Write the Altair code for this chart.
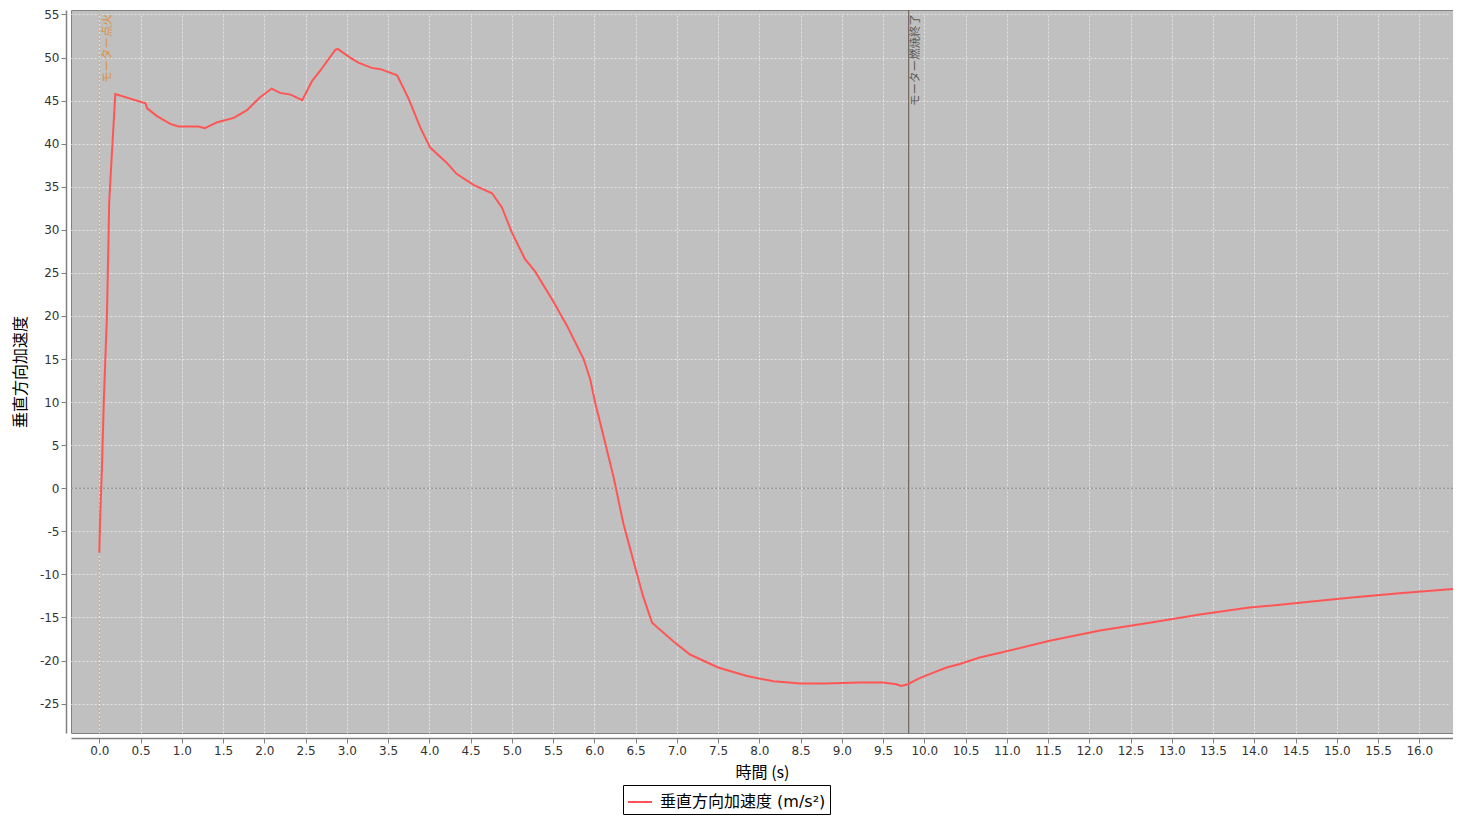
import altair as alt
import pandas as pd

# ---- data ----
time_s = [0.0, 0.012, 0.033, 0.055, 0.093, 0.12, 0.16, 0.194, 0.56, 0.58, 0.70, 0.86, 0.96,
          1.20, 1.28, 1.43, 1.63, 1.79, 1.95, 2.09, 2.19, 2.32, 2.46, 2.58, 2.68, 2.86, 2.89,
          3.04, 3.14, 3.30, 3.41, 3.61, 3.75, 3.89, 4.01, 4.21, 4.33, 4.54, 4.76, 4.88,
          5.00, 5.16, 5.28, 5.50, 5.67, 5.87, 5.95, 6.01, 6.11, 6.23, 6.35, 6.49, 6.59, 6.70,
          6.96, 7.16, 7.50, 7.85, 8.17, 8.5, 8.8, 9.0, 9.22, 9.50, 9.66, 9.72, 9.80, 9.93,
          10.11, 10.27, 10.43, 10.67, 10.92, 11.52, 12.13, 12.73, 13.34, 13.94, 14.55, 15.15,
          15.76, 16.45]
accel = [-7.5, -3.0, 2.6, 10.2, 20.1, 33.2, 40.1, 45.75, 44.7, 44.1, 43.2, 42.3, 42.0,
         42.0, 41.8, 42.5, 43.0, 43.9, 45.4, 46.4, 45.9, 45.7, 45.05, 47.3, 48.5, 50.9, 51.0,
         50.0, 49.4, 48.8, 48.65, 47.95, 45.2, 41.9, 39.55, 37.8, 36.5, 35.2, 34.25, 32.6,
         29.7, 26.6, 25.2, 21.75, 18.85, 15.0, 12.65, 9.95, 6.1, 1.45, -4.0, -9.0, -12.5, -15.6,
         -17.8, -19.3, -20.8, -21.8, -22.4, -22.65, -22.65, -22.6, -22.55, -22.55, -22.75, -22.95,
         -22.75, -22.1, -21.4, -20.8, -20.4, -19.65, -19.1, -17.7, -16.5, -15.6, -14.65, -13.85,
         -13.3, -12.7, -12.2, -11.65]
series_name = "垂直方向加速度 (m/s²)"

marker_times = [0.0, 9.81]
marker_labels = ["モーター点火", "モーター燃焼終了"]

x_ticks = [i * 0.5 for i in range(33)]
y_ticks = list(range(-25, 56, 5))

x_domain = [-0.343, 16.408]
y_domain = [-28.41, 55.52]

FONT = "DejaVu Sans, Noto Sans CJK JP, sans-serif"
CJK = "Noto Sans CJK JP, DejaVu Sans, sans-serif"

df = pd.DataFrame({"t": time_s, "a": accel, "s": [series_name] * len(time_s)})

xs = alt.Scale(domain=x_domain, nice=False, zero=False)
ys = alt.Scale(domain=y_domain, nice=False, zero=False)

base = alt.Chart(df)

line = base.mark_line(strokeWidth=2, clip=True).encode(
    x=alt.X("t:Q", scale=xs,
            axis=alt.Axis(values=x_ticks, format=".1f", title="時間 (s)",
                          titleY=34, titleBaseline="middle")),
    y=alt.Y("a:Q", scale=ys,
            axis=alt.Axis(values=y_ticks, labelExpr="'' + datum.value", title="垂直方向加速度",
                          titleX=-46, titleBaseline="middle")),
    color=alt.Color("s:N", scale=alt.Scale(domain=[series_name], range=["#ff5555"]),
                    legend=alt.Legend(orient="none", legendX=552, legendY=775, title=None,
                                      symbolType="stroke", symbolSize=576,
                                      symbolStrokeWidth=2, labelFontSize=16,
                                      labelFont=FONT, labelColor="#000000", labelLimit=400,
                                      strokeColor="#000000", fillColor="#ffffff",
                                      padding=4, labelOffset=7)),
)

zero_rule = alt.Chart(pd.DataFrame({"y": [0]})).mark_rule(
    color="#8a8a8a", strokeDash=[2, 2], strokeWidth=1).encode(y=alt.Y("y:Q", scale=ys))

m1 = alt.Chart(pd.DataFrame({"t": [marker_times[0]], "lab": [marker_labels[0]]}))
rule1 = m1.mark_rule(color="#e8a25a", strokeDash=[2, 2], strokeWidth=1).encode(
    x=alt.X("t:Q", scale=xs))
text1 = m1.mark_text(angle=270, align="right", baseline="top", xOffset=3,
                     fontSize=11.5, font=CJK, color="#dc9240").encode(
    x=alt.X("t:Q", scale=xs), y=alt.value(4), text="lab:N")

m2 = alt.Chart(pd.DataFrame({"t": [marker_times[1]], "lab": [marker_labels[1]]}))
rule2 = m2.mark_rule(color="#6f6860", strokeWidth=1.2).encode(x=alt.X("t:Q", scale=xs))
text2 = m2.mark_text(angle=270, align="right", baseline="top", xOffset=1,
                     fontSize=11.5, font=CJK, color="#5f5a55").encode(
    x=alt.X("t:Q", scale=xs), y=alt.value(4), text="lab:N")

chart = alt.layer(zero_rule, rule1, rule2, line, text1, text2).properties(
    width=1382, height=723,
    autosize=alt.AutoSizeParams(type="none"),
    padding={"left": 63, "top": 2, "right": 0, "bottom": 82},
).configure_view(
    fill="#c0c0c0", stroke="#808080", strokeWidth=1
).configure_axis(
    domainColor="#808080", domainWidth=1.5, tickColor="#808080", tickSize=5,
    labelColor="#333333", labelFont=FONT, labelFontSize=12, labelPadding=2,
    titleFont=CJK, titleFontSize=16, titleFontWeight="normal", titleColor="#000000",
    grid=True, gridColor="#ffffff", gridDash=[2, 2], gridOpacity=0.6, gridWidth=1,
    offset=5,
)

chart.save("out.html", embed_options={"renderer": "svg", "actions": False})
